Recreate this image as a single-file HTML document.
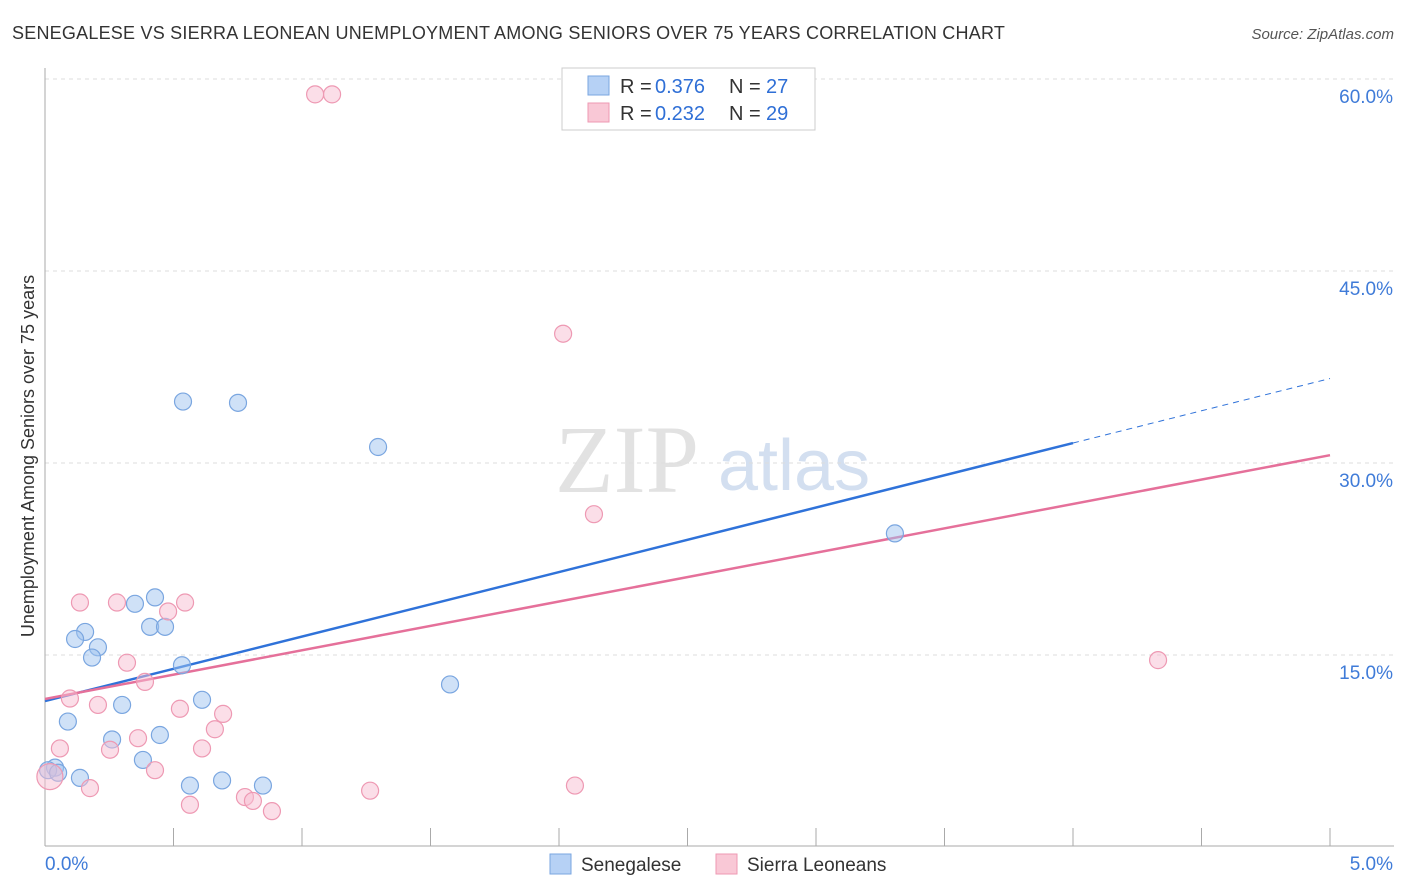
<!DOCTYPE html>
<html><head><meta charset="utf-8"><style>
body{margin:0;background:#fff;font-family:"Liberation Sans",sans-serif;}
svg{display:block}
</style></head><body>
<svg id="chart" width="1406" height="892">
<text x="12" y="39" font-size="18" fill="#333" letter-spacing="0.22">SENEGALESE VS SIERRA LEONEAN UNEMPLOYMENT AMONG SENIORS OVER 75 YEARS CORRELATION CHART</text>
<text x="1394" y="39" font-size="15" fill="#555" font-style="italic" text-anchor="end">Source: ZipAtlas.com</text>
<text x="34" y="456" font-size="18" fill="#333" text-anchor="middle" transform="rotate(-90 34 456)">Unemployment Among Seniors over 75 years</text>
<text x="555" y="492" font-size="96" fill="#e2e2e2" font-family="Liberation Serif">ZIP</text>
<text x="718" y="490" font-size="72" fill="#d3dff0">atlas</text>
<g id="grid"></g><g id="axes"></g><g id="lines"></g><g id="pts"></g>
<g>
<rect x="562" y="68" width="253" height="62" fill="#fff" stroke="#ccc"/>
<rect x="588" y="76" width="21" height="19" fill="#b6d1f5" stroke="#7aa6e0"/>
<rect x="588" y="103" width="21" height="19" fill="#f9c8d6" stroke="#ee99b3"/>
<text x="620" y="93" font-size="20" fill="#333">R = </text><text x="655" y="93" font-size="20" fill="#2f6fd6">0.376</text>
<text x="729" y="93" font-size="20" fill="#333">N = </text><text x="766" y="93" font-size="20" fill="#2f6fd6">27</text>
<text x="620" y="120" font-size="20" fill="#333">R = </text><text x="655" y="120" font-size="20" fill="#2f6fd6">0.232</text>
<text x="729" y="120" font-size="20" fill="#333">N = </text><text x="766" y="120" font-size="20" fill="#2f6fd6">29</text>
</g>
<g>
<rect x="550" y="854" width="21" height="20" fill="#b6d1f5" stroke="#7aa6e0"/>
<text x="581" y="871" font-size="19" fill="#333">Senegalese</text>
<rect x="716" y="854" width="21" height="20" fill="#f9c8d6" stroke="#ee99b3"/>
<text x="747" y="871" font-size="19" fill="#333">Sierra Leoneans</text>
</g>
</svg>
<script>
const blueX=[0.537,0.751,1.296,3.307,1.576,0.428,0.350,0.409,0.467,0.156,0.117,0.206,0.183,0.533,0.611,0.300,0.089,0.447,0.261,0.381,0.039,0.012,0.136,0.564,0.689,0.848,0.051];
const blueY=[34.8,34.7,31.25,24.5,12.7,19.5,19.0,17.2,17.2,16.8,16.25,15.6,14.8,14.2,11.5,11.1,9.8,8.75,8.4,6.8,6.2,6.0,5.4,4.8,5.2,4.8,5.8];
const pinkX=[1.051,1.117,2.016,2.136,4.331,0.136,0.280,0.545,0.479,0.319,0.389,0.097,0.206,0.525,0.693,0.661,0.362,0.611,0.253,0.058,0.428,0.175,0.778,0.809,0.564,0.883,1.265,2.062,0.019];
const pinkY=[58.8,58.8,40.1,26.0,14.6,19.1,19.1,19.1,18.4,14.4,12.9,11.6,11.1,10.8,10.4,9.2,8.5,7.7,7.6,7.7,6.0,4.6,3.9,3.6,3.3,2.8,4.4,4.8,5.5];
const yTicks=[15,30,45,60];
const blueTrend=[11.4,5.04];
const pinkTrend=[11.56,3.81];
const NS='http://www.w3.org/2000/svg';
const sx=v=>45+v*257, sy=v=>847-v*12.8;
function mk(p,t,a){const e=document.createElementNS(NS,t);for(const k in a)e.setAttribute(k,a[k]);p.appendChild(e);return e;}
const grid=document.getElementById('grid'),axes=document.getElementById('axes'),lines=document.getElementById('lines'),pts=document.getElementById('pts');
yTicks.forEach(v=>{
 const l=mk(grid,'line',{x1:45,x2:1394,y1:sy(v),y2:sy(v),stroke:'#ddd','stroke-dasharray':'4,4'});
 
 
 const t=mk(grid,'text',{x:1393,y:sy(v)+24,'font-size':19,fill:'#3f7bd8','text-anchor':'end'});
 t.textContent=v.toFixed(1)+'%';
 
 
});
mk(axes,'line',{x1:45,x2:45,y1:68,y2:846,stroke:'#aaa'});
mk(axes,'line',{x1:45,x2:1394,y1:846,y2:846,stroke:'#aaa'});
for(let i=0;i<=10;i++){mk(axes,'line',{x1:sx(i*0.5),x2:sx(i*0.5),y1:828,y2:846,stroke:'#aaa'});}
const xl=mk(axes,'text',{x:45,y:870,'font-size':19,fill:'#3f7bd8'});xl.textContent='0.0%';


const xr=mk(axes,'text',{x:1393,y:870,'font-size':19,fill:'#3f7bd8','text-anchor':'end'});xr.textContent='5.0%';


const bl=mk(lines,'line',{x1:sx(0),y1:sy(blueTrend[0]),x2:sx(4),y2:sy(blueTrend[0]+4*blueTrend[1]),stroke:'#2f72d9','stroke-width':2.5});


mk(lines,'line',{x1:sx(4),y1:sy(blueTrend[0]+4*blueTrend[1]),x2:sx(5),y2:sy(blueTrend[0]+5*blueTrend[1]),stroke:'#2f72d9','stroke-width':1,'stroke-dasharray':'6,5'});
const pl=mk(lines,'line',{x1:sx(0),y1:sy(pinkTrend[0]),x2:sx(5),y2:sy(pinkTrend[0]+5*pinkTrend[1]),stroke:'#e5709a','stroke-width':2.5});


blueX.forEach((x,i)=>{const c=mk(pts,'circle',{cx:sx(x),cy:sy(blueY[i]),r:8.5,fill:'rgba(160,195,240,0.5)',stroke:'#7aa6e0','stroke-width':1.2});
 
 });
pinkX.forEach((x,i)=>{const c=mk(pts,'circle',{cx:sx(x),cy:sy(pinkY[i]),r:i==28?13:8.5,fill:'rgba(248,190,210,0.5)',stroke:'#ee99b3','stroke-width':1.2});
 
 });
</script>
</body></html>
